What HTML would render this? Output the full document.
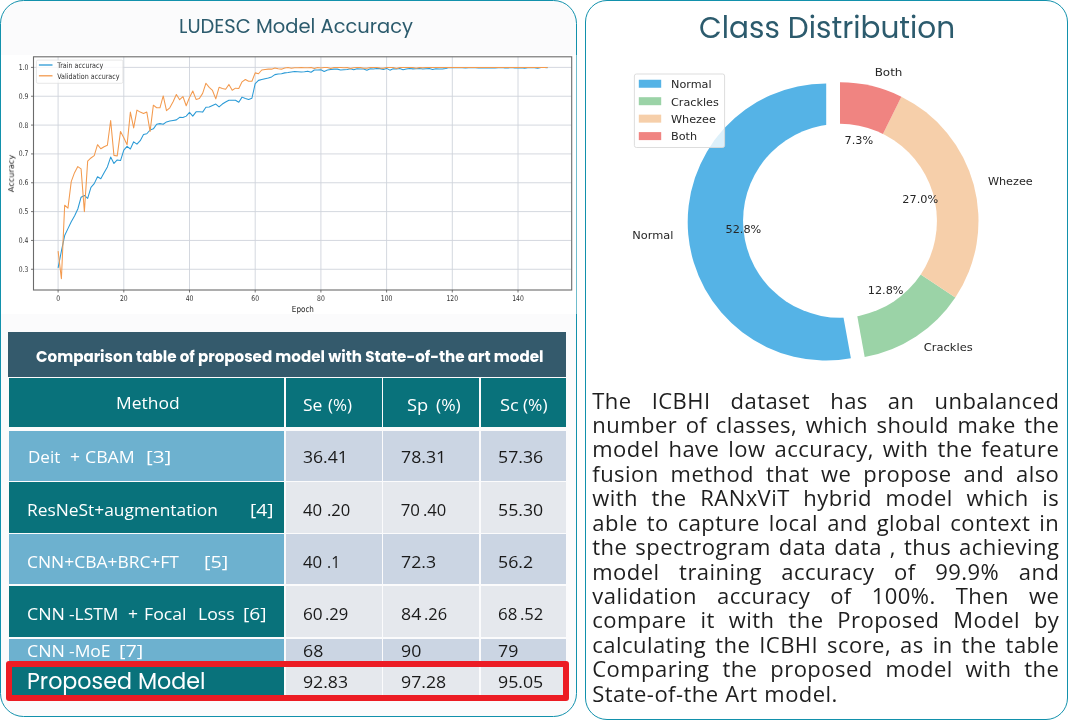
<!DOCTYPE html>
<html><head><meta charset="utf-8"><title>LUDESC</title>
<style>
html,body{margin:0;padding:0}
body{width:1068px;height:720px;overflow:hidden;background:#fff;position:relative;font-family:"Open Sans","Liberation Sans",sans-serif}
.abs{position:absolute}
#wrap{position:absolute;left:0;top:0;width:1068px;height:720px;will-change:transform}
.panel{position:absolute;box-sizing:border-box;border:1.3px solid #1291ac;border-radius:23.5px;background:#fff}
.h1{position:absolute;font-family:Poppins,"Liberation Sans",sans-serif;color:#2c5b6d;white-space:nowrap;line-height:1}
.g{stroke:#cfd4db;stroke-width:0.9}
.tk{stroke:#555;stroke-width:0.8}
.tl{font-family:"DejaVu Sans",sans-serif;font-size:7.8px;fill:#333}
.lg{font-family:"DejaVu Sans",sans-serif;font-size:7.7px;fill:#333}
.al{font-family:"DejaVu Sans",sans-serif;font-size:8.4px;fill:#222}
.pl{font-family:"DejaVu Sans",sans-serif;font-size:11px;fill:#262626}
.ttl{left:8px;width:558px;top:345px;text-align:center;font-family:Poppins,"Liberation Sans",sans-serif;font-weight:700;font-size:15.1px;color:#fff;white-space:nowrap;line-height:20px}
.th{font-family:"Open Sans","Liberation Sans",sans-serif;font-size:16.8px;color:#fff;white-space:pre;line-height:20px}
.td1{font-family:"Open Sans","Liberation Sans",sans-serif;font-size:16.5px;color:#fff;white-space:nowrap;line-height:20px;width:255px}
.td{font-family:"Open Sans","Liberation Sans",sans-serif;font-size:16.5px;color:#1a1a1a;white-space:pre;line-height:20px}
.pm{font-family:Poppins,"Liberation Sans",sans-serif;font-size:22.5px;color:#fff;white-space:nowrap;line-height:26px}
.ln{position:absolute;left:0;width:467px;height:24px;white-space:nowrap;text-align:justify;text-align-last:justify;font-size:22px;line-height:24px;color:#1e1e1e;letter-spacing:0.45px}
</style></head><body><div id="wrap">
<div class="panel" style="left:0;top:0;width:577.4px;height:717.2px;background:#fbfbfc"></div>
<div class="abs" style="left:1.2px;top:55px;width:574.8px;height:259px;background:#fff"></div>
<div class="abs" style="left:576px;top:55px;width:1.4px;height:259px;background:rgba(255,255,255,0.4)"></div>
<div class="panel" style="left:584.5px;top:0;width:483.5px;height:720px;border-radius:22px"></div>
<div class="abs" style="left:178.7px;top:11.8px;font-family:Poppins,'Liberation Sans',sans-serif;font-size:19.4px;font-weight:400;color:#2c5b6d;white-space:pre;line-height:30px;transform:scaleX(1.0047);transform-origin:0 0;">LUDESC Model Accuracy</div>
<svg class="abs" style="left:0;top:0" width="580" height="330" viewBox="0 0 580 330">
<g><line x1="58.10" y1="56.8" x2="58.10" y2="290.0" class="g"/><line x1="123.80" y1="56.8" x2="123.80" y2="290.0" class="g"/><line x1="189.50" y1="56.8" x2="189.50" y2="290.0" class="g"/><line x1="255.20" y1="56.8" x2="255.20" y2="290.0" class="g"/><line x1="320.90" y1="56.8" x2="320.90" y2="290.0" class="g"/><line x1="386.60" y1="56.8" x2="386.60" y2="290.0" class="g"/><line x1="452.30" y1="56.8" x2="452.30" y2="290.0" class="g"/><line x1="518.00" y1="56.8" x2="518.00" y2="290.0" class="g"/><line x1="33.5" y1="269.28" x2="571.7" y2="269.28" class="g"/><line x1="33.5" y1="240.44" x2="571.7" y2="240.44" class="g"/><line x1="33.5" y1="211.60" x2="571.7" y2="211.60" class="g"/><line x1="33.5" y1="182.76" x2="571.7" y2="182.76" class="g"/><line x1="33.5" y1="153.92" x2="571.7" y2="153.92" class="g"/><line x1="33.5" y1="125.08" x2="571.7" y2="125.08" class="g"/><line x1="33.5" y1="96.24" x2="571.7" y2="96.24" class="g"/><line x1="33.5" y1="67.40" x2="571.7" y2="67.40" class="g"/></g>
<polyline points="58.10,267.84 61.39,251.11 64.67,235.54 67.95,228.62 71.24,221.69 74.53,215.93 77.81,209.00 81.09,197.18 84.38,195.45 87.67,198.33 90.95,187.37 94.24,183.63 97.52,176.70 100.81,178.72 104.09,172.67 107.38,166.90 110.66,157.09 113.94,163.44 117.23,159.98 120.52,160.55 123.80,150.17 127.09,146.42 130.37,149.02 133.66,141.81 136.94,144.11 140.22,140.65 143.51,134.60 146.80,133.73 150.08,129.98 153.37,128.83 156.65,124.21 159.94,123.64 163.22,124.21 166.50,121.91 169.79,121.04 173.08,120.47 176.36,119.89 179.65,117.29 182.93,117.58 186.22,116.14 189.50,112.39 192.78,116.14 196.07,111.81 199.35,111.81 202.64,112.10 205.93,107.20 209.21,106.91 212.50,105.47 215.78,104.03 219.06,106.91 222.35,104.03 225.63,102.01 228.92,100.28 232.21,100.28 235.49,100.28 238.78,102.30 242.06,97.11 245.34,98.55 248.63,99.41 251.91,98.26 255.20,83.55 258.49,80.38 261.77,79.51 265.06,78.65 268.34,78.07 271.62,76.92 274.91,74.61 278.19,74.03 281.48,73.74 284.77,72.88 288.05,72.59 291.34,72.01 294.62,71.44 297.91,71.73 301.19,72.01 304.48,71.73 307.76,71.15 311.05,72.30 314.33,70.00 317.62,70.00 320.90,69.71 324.19,71.44 327.47,70.00 330.76,69.42 334.04,69.13 337.33,69.13 340.61,70.00 343.90,69.71 347.18,69.42 350.47,68.85 353.75,69.72 357.04,68.67 360.32,69.08 363.61,69.10 366.89,70.22 370.18,68.76 373.46,69.02 376.75,68.59 380.03,68.63 383.32,69.44 386.60,68.39 389.89,70.16 393.17,68.86 396.46,68.97 399.74,68.58 403.03,69.81 406.31,69.08 409.60,68.54 412.88,68.86 416.17,68.74 419.45,68.44 422.74,68.92 426.02,68.68 429.31,68.50 432.59,69.44 435.88,68.77 439.16,69.00 442.45,69.10 445.73,68.47 449.02,67.49 452.30,67.62 455.59,67.70 458.87,67.52 462.16,67.78 465.44,68.08 468.73,67.65 472.01,67.53 475.30,67.84 478.58,68.10 481.87,68.00 485.15,68.08 488.44,68.03 491.72,67.84 495.01,68.06 498.29,67.72 501.58,67.53 504.86,67.92 508.15,67.86 511.43,67.43 514.72,67.99 518.00,67.95 521.28,67.70 524.57,68.12 527.86,67.85 531.14,67.43 534.43,67.75 537.71,68.21 541.00,67.47 544.28,67.49 547.57,67.84" fill="none" stroke="#2a9ad6" stroke-width="1.05" stroke-linejoin="round"/>
<polyline points="58.10,251.11 61.39,278.80 64.67,205.26 67.95,208.14 71.24,181.61 74.53,172.67 77.81,166.61 81.09,168.92 84.38,211.60 87.67,161.13 90.95,157.96 94.24,155.65 97.52,144.69 100.81,148.73 104.09,146.71 107.38,145.27 110.66,120.47 113.94,155.36 117.23,155.94 120.52,131.42 123.80,137.77 127.09,144.69 130.37,112.10 133.66,127.96 136.94,110.08 140.22,112.10 143.51,113.54 146.80,112.10 150.08,131.42 153.37,105.18 156.65,107.78 159.94,107.78 163.22,95.95 166.50,110.66 169.79,107.78 173.08,101.72 176.36,94.51 179.65,99.70 182.93,96.53 186.22,105.76 189.50,97.39 192.78,91.05 196.07,99.41 199.35,98.55 202.64,93.36 205.93,83.26 209.21,87.30 212.50,90.47 215.78,98.84 219.06,87.30 222.35,88.45 225.63,89.32 228.92,84.42 232.21,90.18 235.49,88.16 238.78,88.45 242.06,81.82 245.34,79.51 248.63,81.24 251.91,81.24 255.20,72.88 258.49,73.74 261.77,70.00 265.06,69.42 268.34,69.13 271.62,69.13 274.91,67.98 278.19,68.84 281.48,69.13 284.77,67.98 288.05,67.40 291.34,68.24 294.62,67.75 297.91,67.83 301.19,67.40 304.48,67.69 307.76,67.78 311.05,67.40 314.33,68.44 317.62,67.40 320.90,67.91 324.19,67.40 327.47,67.40 330.76,68.42 334.04,67.40 337.33,67.40 340.61,67.40 343.90,67.78 347.18,67.40 350.47,68.41 353.75,67.71 357.04,67.40 360.32,67.40 363.61,68.16 366.89,68.15 370.18,67.40 373.46,67.40 376.75,67.40 380.03,68.01 383.32,68.36 386.60,67.40 389.89,67.40 393.17,67.40 396.46,68.39 399.74,67.40 403.03,67.40 406.31,67.40 409.60,67.40 412.88,67.40 416.17,68.14 419.45,67.40 422.74,67.71 426.02,67.40 429.31,67.40 432.59,67.40 435.88,67.40 439.16,67.40 442.45,67.40 445.73,67.40 449.02,67.40 452.30,67.40 455.59,67.40 458.87,67.40 462.16,67.40 465.44,67.40 468.73,67.40 472.01,67.40 475.30,67.40 478.58,67.40 481.87,67.40 485.15,67.40 488.44,67.40 491.72,67.40 495.01,67.40 498.29,67.40 501.58,67.40 504.86,67.40 508.15,67.40 511.43,67.40 514.72,67.40 518.00,67.40 521.28,67.40 524.57,67.40 527.86,67.40 531.14,67.40 534.43,67.40 537.71,67.40 541.00,67.40 544.28,67.40 547.57,67.40" fill="none" stroke="#f39a4e" stroke-width="1.05" stroke-linejoin="round"/>
<rect x="33.5" y="56.8" width="538.2" height="233.2" fill="none" stroke="#6b6b6b" stroke-width="1.1"/>
<line x1="58.10" y1="290.0" x2="58.10" y2="292.5" class="tk"/><text x="58.10" y="300.7" class="tl" text-anchor="middle" transform="translate(58.10,300.7) scale(0.78,1) translate(-58.10,-300.7)">0</text><line x1="123.80" y1="290.0" x2="123.80" y2="292.5" class="tk"/><text x="123.80" y="300.7" class="tl" text-anchor="middle" transform="translate(123.80,300.7) scale(0.78,1) translate(-123.80,-300.7)">20</text><line x1="189.50" y1="290.0" x2="189.50" y2="292.5" class="tk"/><text x="189.50" y="300.7" class="tl" text-anchor="middle" transform="translate(189.50,300.7) scale(0.78,1) translate(-189.50,-300.7)">40</text><line x1="255.20" y1="290.0" x2="255.20" y2="292.5" class="tk"/><text x="255.20" y="300.7" class="tl" text-anchor="middle" transform="translate(255.20,300.7) scale(0.78,1) translate(-255.20,-300.7)">60</text><line x1="320.90" y1="290.0" x2="320.90" y2="292.5" class="tk"/><text x="320.90" y="300.7" class="tl" text-anchor="middle" transform="translate(320.90,300.7) scale(0.78,1) translate(-320.90,-300.7)">80</text><line x1="386.60" y1="290.0" x2="386.60" y2="292.5" class="tk"/><text x="386.60" y="300.7" class="tl" text-anchor="middle" transform="translate(386.60,300.7) scale(0.78,1) translate(-386.60,-300.7)">100</text><line x1="452.30" y1="290.0" x2="452.30" y2="292.5" class="tk"/><text x="452.30" y="300.7" class="tl" text-anchor="middle" transform="translate(452.30,300.7) scale(0.78,1) translate(-452.30,-300.7)">120</text><line x1="518.00" y1="290.0" x2="518.00" y2="292.5" class="tk"/><text x="518.00" y="300.7" class="tl" text-anchor="middle" transform="translate(518.00,300.7) scale(0.78,1) translate(-518.00,-300.7)">140</text><line x1="31.0" y1="269.28" x2="33.5" y2="269.28" class="tk"/><text x="28.3" y="271.78" class="tl" text-anchor="end" transform="translate(28.3,271.78) scale(0.78,1) translate(-28.3,-271.78)">0.3</text><line x1="31.0" y1="240.44" x2="33.5" y2="240.44" class="tk"/><text x="28.3" y="242.94" class="tl" text-anchor="end" transform="translate(28.3,242.94) scale(0.78,1) translate(-28.3,-242.94)">0.4</text><line x1="31.0" y1="211.60" x2="33.5" y2="211.60" class="tk"/><text x="28.3" y="214.10" class="tl" text-anchor="end" transform="translate(28.3,214.10) scale(0.78,1) translate(-28.3,-214.10)">0.5</text><line x1="31.0" y1="182.76" x2="33.5" y2="182.76" class="tk"/><text x="28.3" y="185.26" class="tl" text-anchor="end" transform="translate(28.3,185.26) scale(0.78,1) translate(-28.3,-185.26)">0.6</text><line x1="31.0" y1="153.92" x2="33.5" y2="153.92" class="tk"/><text x="28.3" y="156.42" class="tl" text-anchor="end" transform="translate(28.3,156.42) scale(0.78,1) translate(-28.3,-156.42)">0.7</text><line x1="31.0" y1="125.08" x2="33.5" y2="125.08" class="tk"/><text x="28.3" y="127.58" class="tl" text-anchor="end" transform="translate(28.3,127.58) scale(0.78,1) translate(-28.3,-127.58)">0.8</text><line x1="31.0" y1="96.24" x2="33.5" y2="96.24" class="tk"/><text x="28.3" y="98.74" class="tl" text-anchor="end" transform="translate(28.3,98.74) scale(0.78,1) translate(-28.3,-98.74)">0.9</text><line x1="31.0" y1="67.40" x2="33.5" y2="67.40" class="tk"/><text x="28.3" y="69.90" class="tl" text-anchor="end" transform="translate(28.3,69.90) scale(0.78,1) translate(-28.3,-69.90)">1.0</text>
<rect x="36.4" y="60.1" width="86.5" height="23.2" rx="1.5" fill="#fff" fill-opacity="0.8" stroke="#dcdcdc" stroke-width="0.7"/>
<line x1="38.9" y1="65" x2="52.5" y2="65" stroke="#2a9ad6" stroke-width="1.3"/>
<line x1="38.9" y1="75.8" x2="52.5" y2="75.8" stroke="#f39a4e" stroke-width="1.3"/>
<text x="57.2" y="68.4" class="lg" transform="translate(57.2,68.4) scale(0.83,1) translate(-57.2,-68.4)">Train accuracy</text>
<text x="57.2" y="79.2" class="lg" transform="translate(57.2,79.2) scale(0.83,1) translate(-57.2,-79.2)">Validation accuracy</text>
<text x="302.9" y="311.8" class="al" text-anchor="middle" transform="translate(302.9,311.8) scale(0.86,1) translate(-302.9,-311.8)">Epoch</text>
<text x="0" y="0" class="al" text-anchor="middle" transform="translate(13.7,173.5) rotate(-90) scale(0.98,0.9)">Accuracy</text>
</svg>
<div class="abs" style="left:8px;top:332px;width:558.1px;height:45px;background:#345a6c"></div><div class="abs" style="left:8.7px;top:378.3px;width:274.90px;height:49.20px;background:#09727b"></div><div class="abs" style="left:285.8px;top:378.3px;width:96.30px;height:49.20px;background:#09727b"></div><div class="abs" style="left:383.3px;top:378.3px;width:96.10px;height:49.20px;background:#09727b"></div><div class="abs" style="left:480.9px;top:378.3px;width:85.10px;height:49.20px;background:#09727b"></div><div class="abs" style="left:8.7px;top:431.0px;width:274.90px;height:49.60px;background:#6db1cf"></div><div class="abs" style="left:285.8px;top:431.0px;width:96.30px;height:49.60px;background:#cbd5e3"></div><div class="abs" style="left:383.3px;top:431.0px;width:96.10px;height:49.60px;background:#cbd5e3"></div><div class="abs" style="left:480.9px;top:431.0px;width:85.10px;height:49.60px;background:#cbd5e3"></div><div class="abs" style="left:8.7px;top:482.1px;width:274.90px;height:50.70px;background:#09727b"></div><div class="abs" style="left:285.8px;top:482.1px;width:96.30px;height:50.70px;background:#e5e8ed"></div><div class="abs" style="left:383.3px;top:482.1px;width:96.10px;height:50.70px;background:#e5e8ed"></div><div class="abs" style="left:480.9px;top:482.1px;width:85.10px;height:50.70px;background:#e5e8ed"></div><div class="abs" style="left:8.7px;top:534.2px;width:274.90px;height:50.30px;background:#6db1cf"></div><div class="abs" style="left:285.8px;top:534.2px;width:96.30px;height:50.30px;background:#cbd5e3"></div><div class="abs" style="left:383.3px;top:534.2px;width:96.10px;height:50.30px;background:#cbd5e3"></div><div class="abs" style="left:480.9px;top:534.2px;width:85.10px;height:50.30px;background:#cbd5e3"></div><div class="abs" style="left:8.7px;top:586.2px;width:274.90px;height:50.70px;background:#09727b"></div><div class="abs" style="left:285.8px;top:586.2px;width:96.30px;height:50.70px;background:#e5e8ed"></div><div class="abs" style="left:383.3px;top:586.2px;width:96.10px;height:50.70px;background:#e5e8ed"></div><div class="abs" style="left:480.9px;top:586.2px;width:85.10px;height:50.70px;background:#e5e8ed"></div><div class="abs" style="left:8.7px;top:638.6px;width:274.90px;height:23.40px;background:#6db1cf"></div><div class="abs" style="left:285.8px;top:638.6px;width:96.30px;height:23.40px;background:#cbd5e3"></div><div class="abs" style="left:383.3px;top:638.6px;width:96.10px;height:23.40px;background:#cbd5e3"></div><div class="abs" style="left:480.9px;top:638.6px;width:85.10px;height:23.40px;background:#cbd5e3"></div><div class="abs" style="left:8.7px;top:666.0px;width:274.90px;height:29.50px;background:#09727b"></div><div class="abs" style="left:285.8px;top:666.0px;width:96.30px;height:29.50px;background:#e5e8ed"></div><div class="abs" style="left:383.3px;top:666.0px;width:96.10px;height:29.50px;background:#e5e8ed"></div><div class="abs" style="left:480.9px;top:666.0px;width:85.10px;height:29.50px;background:#e5e8ed"></div><div class="abs" style="left:36.1px;top:341.6px;font-family:Poppins,'Liberation Sans',sans-serif;font-size:15.1px;font-weight:700;color:#fff;white-space:pre;line-height:30px;transform:scaleX(1.001);transform-origin:0 0;">Comparison table of proposed model with State-of-the art model</div><div class="abs" style="left:116.03px;top:388.0px;font-family:'Open Sans','Liberation Sans',sans-serif;font-size:16.3px;font-weight:400;color:#fff;white-space:pre;line-height:30px;transform:scaleX(1.0719);transform-origin:0 0;">Method</div><div class="abs" style="left:302.92px;top:389.8px;font-family:'Open Sans','Liberation Sans',sans-serif;font-size:16.3px;font-weight:400;color:#fff;white-space:pre;line-height:30px;transform:scaleX(1.0765);transform-origin:0 0;">Se</div><div class="abs" style="left:327.6px;top:389.8px;font-family:'Open Sans','Liberation Sans',sans-serif;font-size:16.3px;font-weight:400;color:#fff;white-space:pre;line-height:30px;transform:scaleX(1.0435);transform-origin:0 0;">(%)</div><div class="abs" style="left:407.08px;top:389.8px;font-family:'Open Sans','Liberation Sans',sans-serif;font-size:16.3px;font-weight:400;color:#fff;white-space:pre;line-height:30px;transform:scaleX(1.1235);transform-origin:0 0;">Sp</div><div class="abs" style="left:436.0px;top:389.8px;font-family:'Open Sans','Liberation Sans',sans-serif;font-size:16.3px;font-weight:400;color:#fff;white-space:pre;line-height:30px;transform:scaleX(1.0739);transform-origin:0 0;">(%)</div><div class="abs" style="left:499.57px;top:389.8px;font-family:'Open Sans','Liberation Sans',sans-serif;font-size:16.3px;font-weight:400;color:#fff;white-space:pre;line-height:30px;transform:scaleX(1.1267);transform-origin:0 0;">Sc</div><div class="abs" style="left:523.1px;top:389.8px;font-family:'Open Sans','Liberation Sans',sans-serif;font-size:16.3px;font-weight:400;color:#fff;white-space:pre;line-height:30px;transform:scaleX(1.0652);transform-origin:0 0;">(%)</div><div class="abs" style="left:27.65px;top:442.2px;font-family:'Open Sans','Liberation Sans',sans-serif;font-size:16.3px;font-weight:400;color:#fff;white-space:pre;line-height:30px;transform:scaleX(1.0467);transform-origin:0 0;">Deit</div><div class="abs" style="left:69.82px;top:442.2px;font-family:'Open Sans','Liberation Sans',sans-serif;font-size:16.3px;font-weight:400;color:#fff;white-space:pre;line-height:30px;transform:scaleX(1.075);transform-origin:0 0;">+</div><div class="abs" style="left:84.81px;top:442.2px;font-family:'Open Sans','Liberation Sans',sans-serif;font-size:16.3px;font-weight:400;color:#fff;white-space:pre;line-height:30px;transform:scaleX(1.0884);transform-origin:0 0;">CBAM</div><div class="abs" style="left:145.73px;top:442.2px;font-family:'Open Sans','Liberation Sans',sans-serif;font-size:16.3px;font-weight:400;color:#fff;white-space:pre;line-height:30px;transform:scaleX(1.2667);transform-origin:0 0;">[3]</div><div class="abs" style="left:27.43px;top:494.7px;font-family:'Open Sans','Liberation Sans',sans-serif;font-size:16.3px;font-weight:400;color:#fff;white-space:pre;line-height:30px;transform:scaleX(1.0661);transform-origin:0 0;">ResNeSt+augmentation</div><div class="abs" style="left:249.62px;top:494.7px;font-family:'Open Sans','Liberation Sans',sans-serif;font-size:16.3px;font-weight:400;color:#fff;white-space:pre;line-height:30px;transform:scaleX(1.1778);transform-origin:0 0;">[4]</div><div class="abs" style="left:26.73px;top:547.0px;font-family:'Open Sans','Liberation Sans',sans-serif;font-size:16.3px;font-weight:400;color:#fff;white-space:pre;line-height:30px;transform:scaleX(1.0702);transform-origin:0 0;">CNN+CBA+BRC+FT</div><div class="abs" style="left:203.78px;top:547.0px;font-family:'Open Sans','Liberation Sans',sans-serif;font-size:16.3px;font-weight:400;color:#fff;white-space:pre;line-height:30px;transform:scaleX(1.2167);transform-origin:0 0;">[5]</div><div class="abs" style="left:27.21px;top:598.5px;font-family:'Open Sans','Liberation Sans',sans-serif;font-size:16.3px;font-weight:400;color:#fff;white-space:pre;line-height:30px;transform:scaleX(1.0906);transform-origin:0 0;">CNN</div><div class="abs" style="left:69.0px;top:598.5px;font-family:'Open Sans','Liberation Sans',sans-serif;font-size:16.3px;font-weight:400;color:#fff;white-space:pre;line-height:30px;transform:scaleX(1.0689);transform-origin:0 0;">-LSTM</div><div class="abs" style="left:127.82px;top:598.5px;font-family:'Open Sans','Liberation Sans',sans-serif;font-size:16.3px;font-weight:400;color:#fff;white-space:pre;line-height:30px;transform:scaleX(1.075);transform-origin:0 0;">+</div><div class="abs" style="left:144.01px;top:598.5px;font-family:'Open Sans','Liberation Sans',sans-serif;font-size:16.3px;font-weight:400;color:#fff;white-space:pre;line-height:30px;transform:scaleX(1.0865);transform-origin:0 0;">Focal</div><div class="abs" style="left:197.62px;top:598.5px;font-family:'Open Sans','Liberation Sans',sans-serif;font-size:16.3px;font-weight:400;color:#fff;white-space:pre;line-height:30px;transform:scaleX(1.0844);transform-origin:0 0;">Loss</div><div class="abs" style="left:242.52px;top:598.5px;font-family:'Open Sans','Liberation Sans',sans-serif;font-size:16.3px;font-weight:400;color:#fff;white-space:pre;line-height:30px;transform:scaleX(1.1833);transform-origin:0 0;">[6]</div><div class="abs" style="left:27.21px;top:635.9px;font-family:'Open Sans','Liberation Sans',sans-serif;font-size:16.3px;font-weight:400;color:#fff;white-space:pre;line-height:30px;transform:scaleX(1.0906);transform-origin:0 0;">CNN</div><div class="abs" style="left:69.0px;top:635.9px;font-family:'Open Sans','Liberation Sans',sans-serif;font-size:16.3px;font-weight:400;color:#fff;white-space:pre;line-height:30px;transform:scaleX(1.0737);transform-origin:0 0;">-MoE</div><div class="abs" style="left:118.98px;top:635.9px;font-family:'Open Sans','Liberation Sans',sans-serif;font-size:16.3px;font-weight:400;color:#fff;white-space:pre;line-height:30px;transform:scaleX(1.2167);transform-origin:0 0;">[7]</div><div class="abs" style="left:26.51px;top:667.0px;font-family:Poppins,'Liberation Sans',sans-serif;font-size:22.3px;font-weight:400;color:#fff;white-space:pre;line-height:30px;transform:scaleX(0.996);transform-origin:0 0;">Proposed Model</div><div class="abs" style="left:302.76px;top:442.0px;font-family:'Open Sans','Liberation Sans',sans-serif;font-size:16.9px;font-weight:400;color:#1a1a1a;white-space:pre;line-height:30px;transform:scaleX(1.041);transform-origin:0 0;">36.41</div><div class="abs" style="left:400.85px;top:442.0px;font-family:'Open Sans','Liberation Sans',sans-serif;font-size:16.9px;font-weight:400;color:#1a1a1a;white-space:pre;line-height:30px;transform:scaleX(1.05);transform-origin:0 0;">78.31</div><div class="abs" style="left:498.05px;top:442.0px;font-family:'Open Sans','Liberation Sans',sans-serif;font-size:16.9px;font-weight:400;color:#1a1a1a;white-space:pre;line-height:30px;transform:scaleX(1.05);transform-origin:0 0;">57.36</div><div class="abs" style="left:303.3px;top:494.7px;font-family:'Open Sans','Liberation Sans',sans-serif;font-size:16.9px;font-weight:400;color:#1a1a1a;white-space:pre;line-height:30px;transform:scaleX(0.9947);transform-origin:0 0;">40</div><div class="abs" style="left:326.52px;top:494.7px;font-family:'Open Sans','Liberation Sans',sans-serif;font-size:16.9px;font-weight:400;color:#1a1a1a;white-space:pre;line-height:30px;transform:scaleX(0.9818);transform-origin:0 0;">.20</div><div class="abs" style="left:400.7px;top:494.7px;font-family:'Open Sans','Liberation Sans',sans-serif;font-size:16.9px;font-weight:400;color:#1a1a1a;white-space:pre;line-height:30px;transform:scaleX(1.0);transform-origin:0 0;">70</div><div class="abs" style="left:422.72px;top:494.7px;font-family:'Open Sans','Liberation Sans',sans-serif;font-size:16.9px;font-weight:400;color:#1a1a1a;white-space:pre;line-height:30px;transform:scaleX(0.9818);transform-origin:0 0;">.40</div><div class="abs" style="left:498.05px;top:494.7px;font-family:'Open Sans','Liberation Sans',sans-serif;font-size:16.9px;font-weight:400;color:#1a1a1a;white-space:pre;line-height:30px;transform:scaleX(1.05);transform-origin:0 0;">55.30</div><div class="abs" style="left:303.3px;top:547.0px;font-family:'Open Sans','Liberation Sans',sans-serif;font-size:16.9px;font-weight:400;color:#1a1a1a;white-space:pre;line-height:30px;transform:scaleX(0.9947);transform-origin:0 0;">40</div><div class="abs" style="left:326.57px;top:547.0px;font-family:'Open Sans','Liberation Sans',sans-serif;font-size:16.9px;font-weight:400;color:#1a1a1a;white-space:pre;line-height:30px;transform:scaleX(0.93);transform-origin:0 0;">.1</div><div class="abs" style="left:400.85px;top:547.0px;font-family:'Open Sans','Liberation Sans',sans-serif;font-size:16.9px;font-weight:400;color:#1a1a1a;white-space:pre;line-height:30px;transform:scaleX(1.05);transform-origin:0 0;">72.3</div><div class="abs" style="left:498.05px;top:547.0px;font-family:'Open Sans','Liberation Sans',sans-serif;font-size:16.9px;font-weight:400;color:#1a1a1a;white-space:pre;line-height:30px;transform:scaleX(1.05);transform-origin:0 0;">56.2</div><div class="abs" style="left:302.88px;top:598.5px;font-family:'Open Sans','Liberation Sans',sans-serif;font-size:16.9px;font-weight:400;color:#1a1a1a;white-space:pre;line-height:30px;transform:scaleX(1.0167);transform-origin:0 0;">60</div><div class="abs" style="left:325.42px;top:598.5px;font-family:'Open Sans','Liberation Sans',sans-serif;font-size:16.9px;font-weight:400;color:#1a1a1a;white-space:pre;line-height:30px;transform:scaleX(0.9818);transform-origin:0 0;">.29</div><div class="abs" style="left:400.65px;top:598.5px;font-family:'Open Sans','Liberation Sans',sans-serif;font-size:16.9px;font-weight:400;color:#1a1a1a;white-space:pre;line-height:30px;transform:scaleX(1.05);transform-origin:0 0;">84</div><div class="abs" style="left:423.83px;top:598.5px;font-family:'Open Sans','Liberation Sans',sans-serif;font-size:16.9px;font-weight:400;color:#1a1a1a;white-space:pre;line-height:30px;transform:scaleX(0.9727);transform-origin:0 0;">.26</div><div class="abs" style="left:498.0px;top:598.5px;font-family:'Open Sans','Liberation Sans',sans-serif;font-size:16.9px;font-weight:400;color:#1a1a1a;white-space:pre;line-height:30px;transform:scaleX(1.0);transform-origin:0 0;">68</div><div class="abs" style="left:520.22px;top:598.5px;font-family:'Open Sans','Liberation Sans',sans-serif;font-size:16.9px;font-weight:400;color:#1a1a1a;white-space:pre;line-height:30px;transform:scaleX(0.9818);transform-origin:0 0;">.52</div><div class="abs" style="left:302.85px;top:635.9px;font-family:'Open Sans','Liberation Sans',sans-serif;font-size:16.9px;font-weight:400;color:#1a1a1a;white-space:pre;line-height:30px;transform:scaleX(1.05);transform-origin:0 0;">68</div><div class="abs" style="left:400.85px;top:635.9px;font-family:'Open Sans','Liberation Sans',sans-serif;font-size:16.9px;font-weight:400;color:#1a1a1a;white-space:pre;line-height:30px;transform:scaleX(1.05);transform-origin:0 0;">90</div><div class="abs" style="left:498.05px;top:635.9px;font-family:'Open Sans','Liberation Sans',sans-serif;font-size:16.9px;font-weight:400;color:#1a1a1a;white-space:pre;line-height:30px;transform:scaleX(1.05);transform-origin:0 0;">79</div><div class="abs" style="left:302.75px;top:667.3px;font-family:'Open Sans','Liberation Sans',sans-serif;font-size:16.9px;font-weight:400;color:#1a1a1a;white-space:pre;line-height:30px;transform:scaleX(1.0463);transform-origin:0 0;">92.83</div><div class="abs" style="left:400.85px;top:667.3px;font-family:'Open Sans','Liberation Sans',sans-serif;font-size:16.9px;font-weight:400;color:#1a1a1a;white-space:pre;line-height:30px;transform:scaleX(1.05);transform-origin:0 0;">97.28</div><div class="abs" style="left:498.05px;top:667.3px;font-family:'Open Sans','Liberation Sans',sans-serif;font-size:16.9px;font-weight:400;color:#1a1a1a;white-space:pre;line-height:30px;transform:scaleX(1.05);transform-origin:0 0;">95.05</div><div class="abs" style="left:5.6px;top:661px;width:563.6px;height:39.9px;border:6px solid #ec1c24;border-radius:3px;box-sizing:border-box"></div>
<div class="abs" style="left:698.93px;top:13.0px;font-family:Poppins,'Liberation Sans',sans-serif;font-size:30.6px;font-weight:400;color:#2c5b6d;white-space:pre;line-height:30px;transform:scaleX(0.966);transform-origin:0 0;">Class Distribution</div>
<svg class="abs" style="left:0;top:0" width="1068" height="380" viewBox="0 0 1068 380">
<path d="M826.21,222.04 L826.21,83.54 A138.5,138.5 0 1 0 850.90,358.32 Z" fill="#55b3e6"/><path d="M840.00,220.80 L864.69,357.08 A138.5,138.5 0 0 0 955.35,297.45 Z" fill="#9bd3a7"/><path d="M840.00,220.80 L955.35,297.45 A138.5,138.5 0 0 0 901.38,96.64 Z" fill="#f6cfaa"/><path d="M840.00,220.80 L901.38,96.64 A138.5,138.5 0 0 0 840.00,82.30 Z" fill="#f08481"/><circle cx="840.0" cy="220.8" r="96.95" fill="#fff"/>
<text x="673.47" y="238.88" class="pl" text-anchor="end" transform="translate(673.47,238.88) scale(1.034,1) translate(-673.47,-238.88)">Normal</text><text x="743.44" y="233.48" class="pl" text-anchor="middle" transform="translate(743.44,233.48) scale(1.025,1) translate(-743.44,-233.48)">52.8%</text><text x="923.72" y="351.09" class="pl" text-anchor="start" transform="translate(923.72,351.09) scale(1.045,1) translate(-923.72,-351.09)">Crackles</text><text x="885.66" y="293.73" class="pl" text-anchor="middle" transform="translate(885.66,293.73) scale(1.025,1) translate(-885.66,-293.73)">12.8%</text><text x="987.93" y="185.25" class="pl" text-anchor="start" transform="translate(987.93,185.25) scale(1.02,1) translate(-987.93,-185.25)">Whezee</text><text x="920.25" y="203.23" class="pl" text-anchor="middle" transform="translate(920.25,203.23) scale(1.025,1) translate(-920.25,-203.23)">27.0%</text><text x="874.67" y="76.45" class="pl" text-anchor="start" transform="translate(874.67,76.45) scale(1.087,1) translate(-874.67,-76.45)">Both</text><text x="858.91" y="143.88" class="pl" text-anchor="middle" transform="translate(858.91,143.88) scale(1.025,1) translate(-858.91,-143.88)">7.3%</text>
<rect x="634.4" y="74" width="90.2" height="73.5" rx="2" fill="#fff" fill-opacity="0.8" stroke="#d9d9d9" stroke-width="0.9"/><rect x="638.8" y="79.75" width="22.4" height="8.0" fill="#55b3e6"/><text x="671.0" y="88.15" class="pl" transform="translate(671,88.15) scale(1.02,1) translate(-671,-88.15)">Normal</text><rect x="638.8" y="97.20" width="22.4" height="8.0" fill="#9bd3a7"/><text x="671.0" y="105.60" class="pl" transform="translate(671,105.60) scale(1.02,1) translate(-671,-105.60)">Crackles</text><rect x="638.8" y="114.65" width="22.4" height="8.0" fill="#f6cfaa"/><text x="671.0" y="123.05" class="pl" transform="translate(671,123.05) scale(1.02,1) translate(-671,-123.05)">Whezee</text><rect x="638.8" y="132.10" width="22.4" height="8.0" fill="#f08481"/><text x="671.0" y="140.50" class="pl" transform="translate(671,140.50) scale(1.02,1) translate(-671,-140.50)">Both</text>
</svg>
<div class="abs" style="left:592.3px;top:387.6px;width:467px;height:320px"><div class="ln" style="top:0.00px">The ICBHI dataset has an unbalanced</div><div class="ln" style="top:24.42px">number of classes, which should make the</div><div class="ln" style="top:48.84px">model have low accuracy, with the feature</div><div class="ln" style="top:73.26px">fusion method that we propose and also</div><div class="ln" style="top:97.68px">with the RANxViT hybrid model which is</div><div class="ln" style="top:122.10px">able to capture local and global context in</div><div class="ln" style="top:146.52px">the spectrogram data data , thus achieving</div><div class="ln" style="top:170.94px">model training accuracy of 99.9% and</div><div class="ln" style="top:195.36px">validation accuracy of 100%. Then we</div><div class="ln" style="top:219.78px">compare it with the Proposed Model by</div><div class="ln" style="top:244.20px">calculating the ICBHI score, as in the table</div><div class="ln" style="top:268.62px">Comparing the proposed model with the</div><div class="ln" style="top:293.04px;width:245.5px">State-of-the Art model.</div></div>
</div></body></html>
